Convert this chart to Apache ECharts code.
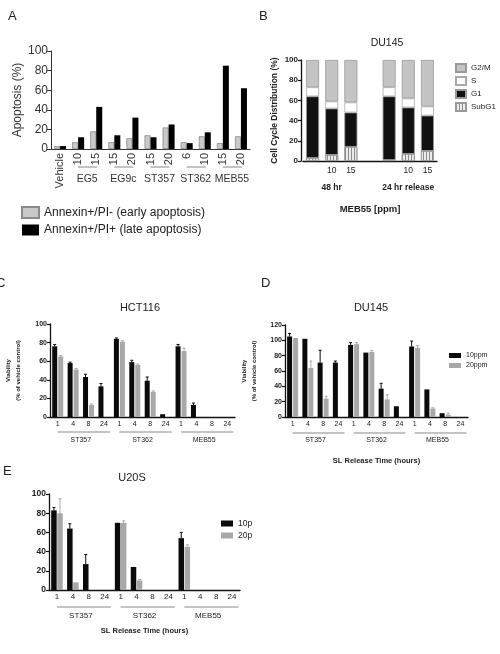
<!DOCTYPE html>
<html><head><meta charset="utf-8">
<script src="https://cdn.jsdelivr.net/npm/echarts@6/dist/echarts.min.js"></script>
<style>html,body{margin:0;padding:0;background:#fff}#c{width:500px;height:654px}</style>
</head><body><div id="c"></div>
<script>
// ---------- Panel A ----------
const aCats = ['Vehicle','10','15','15','20','15','20','6','10','15','20'];
const aGroups = [['EG5',1,2],['EG9c',3,4],['ST357',5,6],['ST362',7,8],['MEB55',9,10]];
const aEarly = [3,7,18,7,11,14,22,7,13,6,13];
const aLate  = [3,12,43,14,32,12,25,6,17,85,62];
// ---------- Panel B ----------
const bCats = ['','10','15','','','10','15'];
const bConds = [['48 hr',1],['24 hr release',5]];
const bSub = [3,6,14,null,1,7,10];
const bG1  = [61,46,34,null,63,46,35];
const bS   = [9,7,10,null,9,9,9];
const bG2M = [27,41,42,null,27,38,46];
// ---------- Panels C, D, E ----------
const hours = ['1','4','8','24','1','4','8','24','1','4','8','24'];
const compounds = ['ST357','ST362','MEB55'];
const c10  = [76,58,43,33, 84,59,39,3, 76,13,0,0];
const c10e = [2,1,3,3, 1,2,4,0, 2,2,0,0];
const c20  = [65,51,13,0, 81,56,27,0, 71,0,0,0];
const c20e = [1,1,1,0, 1,1,1,0, 3,0,0,0];
const d10  = [105,102,71,71, 94,84,37,14, 92,36,5,0];
const d10e = [4,0,16,2, 3,0,7,0, 7,0,0,0];
const d20  = [103,64,24,0, 95,85,23,0, 90,11,3,0];
const d20e = [0,9,3,0, 2,2,6,0, 3,1,2,0];
const e10  = [83,64,27,0, 70,24,0,0, 54,0,0,0];
const e10e = [3,5,10,0, 0,0,0,0, 6,0,0,0];
const e20  = [80,8,0,0, 70,10,0,0, 45,0,0,0];
const e20e = [15,0,0,0, 2,1,0,0, 2,0,0,0];

const FF = '"Liberation Sans", Arial, sans-serif';
const BLACK = '#0a0a0a', GRAY = '#a8a8a8';
const chart = echarts.init(document.getElementById('c'));

function errSeries(name, xi, yi, vals, errs, color, offset) {
  return {
    type: 'custom', name: name, xAxisIndex: xi, yAxisIndex: yi, silent: true, z: 3,
    data: vals.map((v, i) => [i, v, errs[i]]),
    renderItem: function (params, api) {
      const e = api.value(2);
      if (!e) return null;
      const p0 = api.coord([api.value(0), api.value(1)]);
      const p1 = api.coord([api.value(0), api.value(1) + e]);
      const x = p0[0] + offset;
      return { type: 'group', children: [
        { type: 'line', shape: { x1: x, y1: p0[1], x2: x, y2: p1[1] }, style: { stroke: color, lineWidth: 1 } },
        { type: 'line', shape: { x1: x - 1.5, y1: p1[1], x2: x + 1.5, y2: p1[1] }, style: { stroke: color, lineWidth: 1 } }
      ]};
    }
  };
}
function gpY(grid, max, fs, name, nameGap, nfs) {
  return {
    type: 'value', gridIndex: grid, min: 0, max: max, interval: 20,
    splitLine: { show: false },
    axisLine: { show: true, lineStyle: { color: '#111', width: 1.3 } },
    axisTick: { show: true, length: 3, lineStyle: { color: '#111', width: 1.2 } },
    axisLabel: { fontSize: fs, fontWeight: 'bold', color: '#222', margin: 3, fontFamily: FF },
    name: name, nameLocation: 'middle', nameGap: nameGap,
    nameTextStyle: { fontSize: nfs, fontWeight: 'bold', color: '#222', lineHeight: nfs + 3.5, fontFamily: FF }
  };
}
function gpX(grid, fs, margin) {
  return {
    type: 'category', gridIndex: grid, data: hours,
    axisLine: { lineStyle: { color: '#111', width: 1.3 } },
    axisTick: { alignWithLabel: true, length: 3, lineStyle: { color: '#111', width: 1.2 } },
    axisLabel: { interval: 0, fontSize: fs, color: '#222', margin: margin, fontFamily: FF }
  };
}
function gpGroupX(grid, fs, offset, name, nameGap, nfs) {
  return {
    type: 'category', gridIndex: grid, data: compounds, position: 'bottom', offset: offset,
    axisLine: { show: false }, axisTick: { show: false },
    axisLabel: { interval: 0, fontSize: fs, color: '#222', margin: 4, fontFamily: FF },
    name: name || '', nameLocation: 'middle', nameGap: nameGap || 0,
    nameTextStyle: { fontSize: nfs || 8, fontWeight: 'bold', color: '#222', fontFamily: FF }
  };
}
function titleT(text, left, top, fs, align) {
  return { text: text, left: left, top: top, padding: 0, textAlign: align || 'left',
    textStyle: { fontSize: fs, fontWeight: 'normal', color: '#222', fontFamily: FF } };
}

const option = {
  animation: false,
  textStyle: { fontFamily: FF },
  title: [
    titleT('A', 8, 10, 13), titleT('B', 259, 10, 13), titleT('C', -4, 277, 13),
    titleT('D', 261, 277, 13), titleT('E', 3, 465, 13),
    titleT('DU145', 387, 38, 10.5, 'center'), titleT('HCT116', 140, 302, 11, 'center'),
    titleT('DU145', 371, 302, 11, 'center'), titleT('U20S', 132, 472, 11, 'center')
  ],
  legend: [
    { left: 21, top: 206, padding: 0, orient: 'vertical', itemWidth: 17, itemHeight: 11, itemGap: 5, icon: 'rect',
      textStyle: { fontSize: 12, color: '#222', fontFamily: FF },
      data: ['Annexin+/PI- (early apoptosis)', 'Annexin+/PI+ (late apoptosis)'] },
    { left: 455, top: 63, padding: 0, orient: 'vertical', itemWidth: 10, itemHeight: 8, itemGap: 3, icon: 'rect',
      textStyle: { fontSize: 8, color: '#222', fontFamily: FF },
      data: ['G2/M', 'S', 'G1', 'SubG1'] },
    { left: 449, top: 352, padding: 0, orient: 'vertical', itemWidth: 12, itemHeight: 5, itemGap: 3, icon: 'rect',
      textStyle: { fontSize: 7, color: '#222', fontFamily: FF }, data: ['10ppm', '20ppm'] },
    { left: 221, top: 519, padding: 0, orient: 'vertical', itemWidth: 12, itemHeight: 6, itemGap: 3, icon: 'rect',
      textStyle: { fontSize: 8.5, color: '#222', fontFamily: FF }, data: ['10p', '20p'] }
  ],
  grid: [
    { left: 51, top: 51, width: 199, height: 98 },
    { left: 303, top: 60, width: 134, height: 101 },
    { left: 50, top: 324, width: 185, height: 93 },
    { left: 285, top: 325, width: 183, height: 92 },
    { left: 49, top: 494, width: 191, height: 96 }
  ],
  xAxis: [
    { type: 'category', gridIndex: 0, data: aCats,
      axisLine: { lineStyle: { color: '#333' } },
      axisTick: { alignWithLabel: true, length: 4, lineStyle: { color: '#333' } },
      axisLabel: { rotate: 90, interval: 0, fontSize: 11, color: '#333', margin: 4, fontFamily: FF } },
    { type: 'category', gridIndex: 1, data: bCats,
      axisLine: { lineStyle: { color: '#111', width: 1.3 } },
      axisTick: { alignWithLabel: true, length: 3, lineStyle: { color: '#111', width: 1.2 } },
      axisLabel: { interval: 0, fontSize: 8.5, color: '#222', margin: 5, fontFamily: FF },
      name: 'MEB55 [ppm]', nameLocation: 'middle', nameGap: 43,
      nameTextStyle: { fontSize: 9.5, fontWeight: 'bold', color: '#222', fontFamily: FF } },
    gpX(2, 7, 4), gpGroupX(2, 7, 16),
    gpX(3, 7, 4), gpGroupX(3, 7, 16, 'SL Release Time (hours)', 24, 7.5),
    gpX(4, 8, 3), gpGroupX(4, 8, 18, 'SL Release Time (hours)', 19, 7.5)
  ],
  yAxis: [
    { type: 'value', gridIndex: 0, min: 0, max: 100, interval: 20, splitLine: { show: false },
      axisLine: { show: true, lineStyle: { color: '#333' } },
      axisTick: { show: true, length: 4, lineStyle: { color: '#333' } },
      axisLabel: { fontSize: 12, color: '#333', margin: 3, fontFamily: FF },
      name: 'Apoptosis (%)', nameLocation: 'middle', nameGap: 23,
      nameTextStyle: { fontSize: 12, color: '#333', fontFamily: FF } },
    Object.assign(gpY(1, 100, 8, 'Cell Cycle Distribution (%)', 18, 8.5), { offset: 2 }),
    gpY(2, 100, 7, 'Viability\n(% of vehicle control)', 27, 6),
    gpY(3, 120, 7, 'Viability\n(% of vehicle control)', 26, 6),
    gpY(4, 100, 8.5, '', 0, 8)
  ],
  series: [
    // A
    { type: 'bar', name: 'Annexin+/PI- (early apoptosis)', xAxisIndex: 0, yAxisIndex: 0, data: aEarly,
      barWidth: 6, barGap: '0%', itemStyle: { color: '#c9c9c9', borderColor: '#8a8a8a', borderWidth: 0.8 } },
    { type: 'bar', name: 'Annexin+/PI+ (late apoptosis)', xAxisIndex: 0, yAxisIndex: 0, data: aLate,
      barWidth: 6, barGap: '0%', itemStyle: { color: '#000' } },
    // B
    { type: 'bar', name: 'SubG1', stack: 'cc', xAxisIndex: 1, yAxisIndex: 1, data: bSub, barWidth: 13,
      itemStyle: { color: '#ececec', borderColor: '#999', borderWidth: 0.8,
        decal: { symbol: 'rect', symbolSize: 1, dashArrayX: [1, 1.2], dashArrayY: [4, 0], color: '#8c8c8c', rotation: 0 } } },
    { type: 'bar', name: 'G1', stack: 'cc', xAxisIndex: 1, yAxisIndex: 1, data: bG1, barWidth: 13,
      itemStyle: { color: '#111', borderColor: '#999', borderWidth: 0.8 } },
    { type: 'bar', name: 'S', stack: 'cc', xAxisIndex: 1, yAxisIndex: 1, data: bS, barWidth: 13,
      itemStyle: { color: '#fff', borderColor: '#aaa', borderWidth: 0.8 } },
    { type: 'bar', name: 'G2/M', stack: 'cc', xAxisIndex: 1, yAxisIndex: 1, data: bG2M, barWidth: 13,
      itemStyle: { color: '#c4c4c4', borderColor: '#999', borderWidth: 0.8 } },
    // C
    { type: 'bar', name: 'HCT116 10ppm', xAxisIndex: 2, yAxisIndex: 2, data: c10, barWidth: 5, barGap: '20%', itemStyle: { color: BLACK } },
    { type: 'bar', name: 'HCT116 20ppm', xAxisIndex: 2, yAxisIndex: 2, data: c20, barWidth: 5, barGap: '20%', itemStyle: { color: GRAY } },
    errSeries('c10e', 2, 2, c10, c10e, BLACK, -3),
    errSeries('c20e', 2, 2, c20, c20e, GRAY, 3),
    // D
    { type: 'bar', name: '10ppm', xAxisIndex: 4, yAxisIndex: 3, data: d10, barWidth: 5, barGap: '20%', itemStyle: { color: BLACK } },
    { type: 'bar', name: '20ppm', xAxisIndex: 4, yAxisIndex: 3, data: d20, barWidth: 5, barGap: '20%', itemStyle: { color: GRAY } },
    errSeries('d10e', 4, 3, d10, d10e, BLACK, -3),
    errSeries('d20e', 4, 3, d20, d20e, GRAY, 3),
    // E
    { type: 'bar', name: '10p', xAxisIndex: 6, yAxisIndex: 4, data: e10, barWidth: 5.5, barGap: '10%', itemStyle: { color: BLACK } },
    { type: 'bar', name: '20p', xAxisIndex: 6, yAxisIndex: 4, data: e20, barWidth: 5.5, barGap: '10%', itemStyle: { color: GRAY } },
    errSeries('e10e', 6, 4, e10, e10e, BLACK, -3.03),
    errSeries('e20e', 6, 4, e20, e20e, GRAY, 3.03)
  ]
};
chart.setOption(option);

// Annotations positioned from the axes
const px = (xi, v) => chart.convertToPixel({ xAxisIndex: xi }, v);
const py = (yi, v) => chart.convertToPixel({ yAxisIndex: yi }, v);
const gfx = [];
const lineStyle = { stroke: '#b0b0b0', lineWidth: 1.5 };
// A group lines + labels
const a0 = py(0, 0);
aGroups.forEach(([name, i1, i2]) => {
  const x1 = px(0, i1), x2 = px(0, i2);
  gfx.push({ type: 'line', shape: { x1: x1, y1: a0 + 18, x2: x2 + 1, y2: a0 + 18 }, style: lineStyle, silent: true });
  gfx.push({ type: 'text', x: (x1 + x2) / 2, y: a0 + 30, silent: true,
    style: { text: name, fontSize: 10.5, fill: '#333', fontFamily: FF, textAlign: 'center', textVerticalAlign: 'middle' } });
});
// B condition labels
const b0 = py(1, 0);
bConds.forEach(([name, i]) => {
  gfx.push({ type: 'text', x: px(1, i), y: b0 + 27, silent: true,
    style: { text: name, fontSize: 8.5, fontWeight: 'bold', fill: '#222', fontFamily: FF, textAlign: 'center', textVerticalAlign: 'middle' } });
});
// C/D/E group lines
[[2, 2, 15], [4, 3, 16], [6, 4, 17]].forEach(([xi, yi, dy]) => {
  const y = py(yi, 0) + dy;
  const band = px(xi, 1) - px(xi, 0);
  for (let k = 0; k < compounds.length; k++) {
    const x1 = px(xi, 4 * k), x2 = px(xi, 4 * k + 3) + 0.4 * band;
    gfx.push({ type: 'line', shape: { x1: x1, y1: y, x2: x2, y2: y }, style: lineStyle, silent: true });
  }
});
chart.setOption({ graphic: gfx });
</script>
</body></html>
